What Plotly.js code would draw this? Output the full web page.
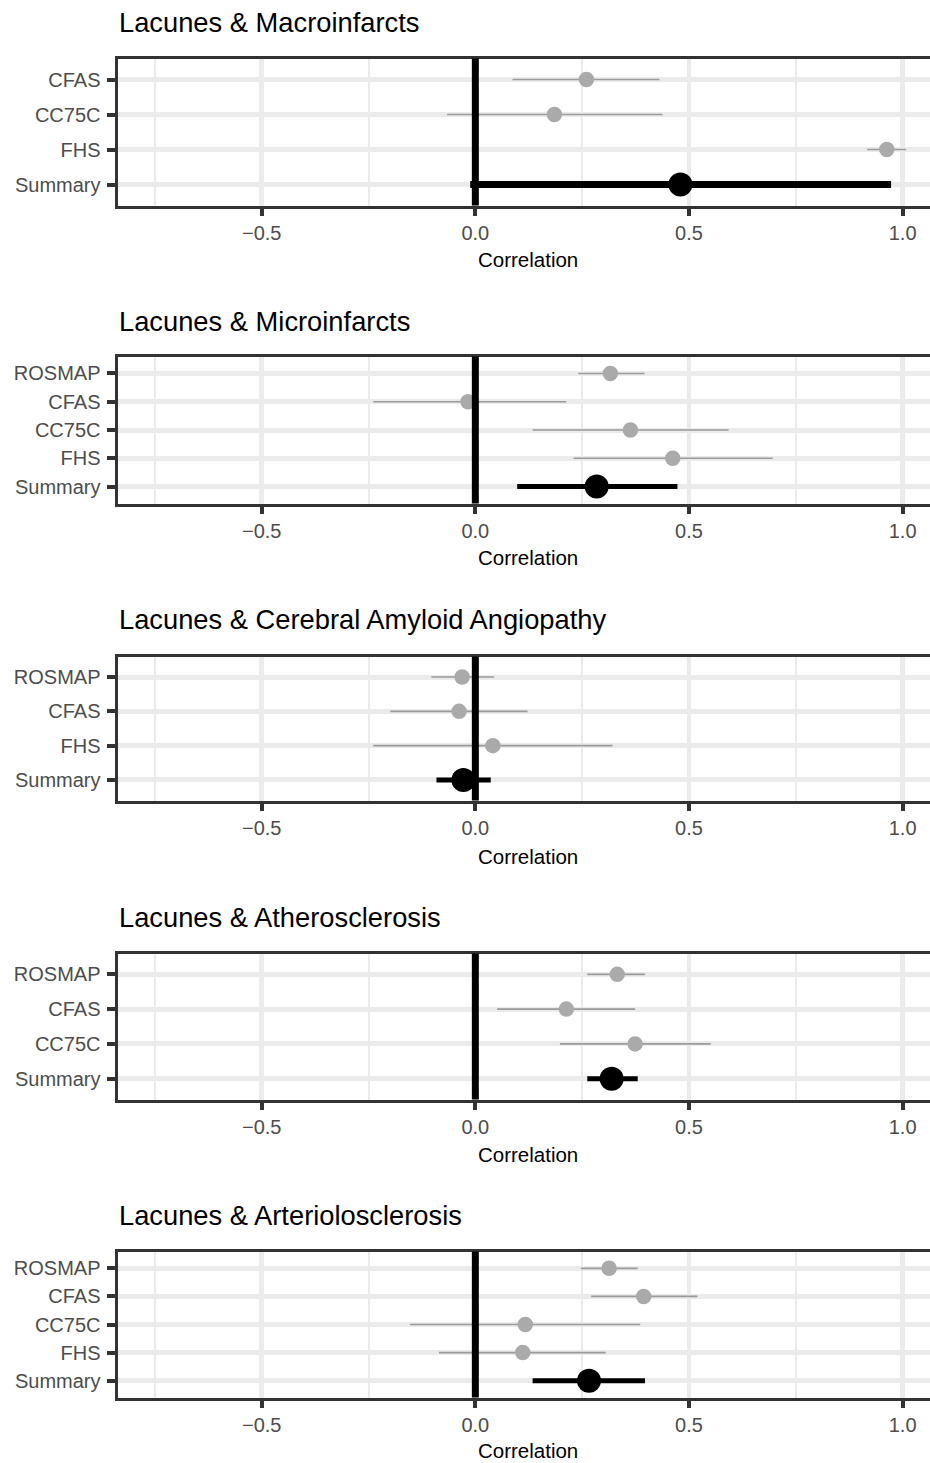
<!DOCTYPE html>
<html>
<head>
<meta charset="utf-8">
<script src="https://cdn.plot.ly/plotly-3.0.1.min.js"></script>
<style>
html, body { margin: 0; padding: 0; overflow: hidden; background: #fff; }
#chart { width: 940px; height: 1463px; }
</style>
</head>
<body>
<div id="chart"></div>
<script>
// ---- Data ----
const titles = [
  "Lacunes & Macroinfarcts",
  "Lacunes & Microinfarcts",
  "Lacunes & Cerebral Amyloid Angiopathy",
  "Lacunes & Atherosclerosis",
  "Lacunes & Arteriolosclerosis"
];
const xTickVals = [-0.5, 0.0, 0.5, 1.0];
const xTickText = ["\u22120.5", "0.0", "0.5", "1.0"];
const xAxisTitle = "Correlation";

const p1Labels = ["CFAS", "CC75C", "FHS", "Summary"];
const p1Est = [0.260, 0.185, 0.963, 0.480];
const p1Lo  = [0.087, -0.066, 0.917, -0.012];
const p1Hi  = [0.431, 0.438, 1.008, 0.973];

const p2Labels = ["ROSMAP", "CFAS", "CC75C", "FHS", "Summary"];
const p2Est = [0.316, -0.017, 0.363, 0.462, 0.284];
const p2Lo  = [0.241, -0.239, 0.134, 0.230, 0.098];
const p2Hi  = [0.396, 0.213, 0.593, 0.696, 0.473];

const p3Labels = ["ROSMAP", "CFAS", "FHS", "Summary"];
const p3Est = [-0.031, -0.038, 0.041, -0.028];
const p3Lo  = [-0.103, -0.199, -0.239, -0.091];
const p3Hi  = [0.044, 0.122, 0.321, 0.036];

const p4Labels = ["ROSMAP", "CFAS", "CC75C", "Summary"];
const p4Est = [0.332, 0.213, 0.374, 0.319];
const p4Lo  = [0.262, 0.051, 0.198, 0.262];
const p4Hi  = [0.397, 0.374, 0.551, 0.380];

const p5Labels = ["ROSMAP", "CFAS", "CC75C", "FHS", "Summary"];
const p5Est = [0.313, 0.394, 0.117, 0.111, 0.266];
const p5Lo  = [0.247, 0.271, -0.153, -0.085, 0.134];
const p5Hi  = [0.380, 0.520, 0.386, 0.305, 0.397];

const panels = [
  {labels: p1Labels, est: p1Est, lo: p1Lo, hi: p1Hi},
  {labels: p2Labels, est: p2Est, lo: p2Lo, hi: p2Hi},
  {labels: p3Labels, est: p3Est, lo: p3Lo, hi: p3Hi},
  {labels: p4Labels, est: p4Est, lo: p4Lo, hi: p4Hi},
  {labels: p5Labels, est: p5Est, lo: p5Lo, hi: p5Hi}
];

// ---- Layout / style ----
const W = 940, H = 1463;
const FONT = "Liberation Sans, Arial, sans-serif";
const panelBox = [[57, 207], [355, 505], [655, 802], [952, 1101], [1250, 1399]]; // px top/bottom
const titleY = [22, 321, 619, 917, 1215];
const axisTitleGap = [53, 53, 54, 53, 51];
const summaryLineWidth = [7, 5, 5, 5, 5];
const xLeftPx = 117.5, xRightPx = 940;
const xRange = [-0.8375, 1.0875];

const traces = [];
const layout = {
  width: W, height: H,
  margin: {l: 0, r: 0, t: 0, b: 0},
  paper_bgcolor: "#ffffff",
  plot_bgcolor: "#ffffff",
  showlegend: false,
  font: {family: FONT},
  annotations: [],
  shapes: []
};

panels.forEach((p, i) => {
  const n = i + 1;
  const xa = "x" + (n === 1 ? "" : n);
  const ya = "y" + (n === 1 ? "" : n);
  const xKey = "xaxis" + (n === 1 ? "" : n);
  const yKey = "yaxis" + (n === 1 ? "" : n);
  const [t, b] = panelBox[i];

  const studyIdx = p.labels.map((_, k) => k).filter(k => p.labels[k] !== "Summary");
  const sumIdx = p.labels.indexOf("Summary");

  // study CI lines
  const lx = [], ly = [];
  studyIdx.forEach(k => { lx.push(p.lo[k], p.hi[k], null); ly.push(p.labels[k], p.labels[k], null); });
  traces.push({
    type: "scatter", mode: "lines", x: lx, y: ly, xaxis: xa, yaxis: ya,
    line: {color: "#9a9a9a", width: 1.6}, hoverinfo: "skip", connectgaps: false
  });
  // study points
  traces.push({
    type: "scatter", mode: "markers",
    x: studyIdx.map(k => p.est[k]), y: studyIdx.map(k => p.labels[k]),
    xaxis: xa, yaxis: ya,
    marker: {color: "#aaaaaa", size: 15.5, line: {width: 0}}
  });
  // summary line
  traces.push({
    type: "scatter", mode: "lines",
    x: [p.lo[sumIdx], p.hi[sumIdx]], y: [p.labels[sumIdx], p.labels[sumIdx]],
    xaxis: xa, yaxis: ya,
    line: {color: "#000000", width: summaryLineWidth[i]}
  });
  // summary point
  traces.push({
    type: "scatter", mode: "markers",
    x: [p.est[sumIdx]], y: [p.labels[sumIdx]],
    xaxis: xa, yaxis: ya,
    marker: {color: "#000000", size: 24, line: {width: 0}}
  });

  const nCat = p.labels.length;
  layout[xKey] = {
    domain: [xLeftPx / W, xRightPx / W],
    anchor: ya,
    range: xRange,
    tickmode: "array", tickvals: xTickVals, ticktext: xTickText,
    ticks: "outside", ticklen: 7, tickwidth: 4, tickcolor: "#333333",
    tickfont: {family: FONT, size: 20, color: "#4d4d4d"},
    showgrid: true, gridcolor: "#ebebeb", gridwidth: 4.5,
    minor: {tickvals: [-0.75, -0.25, 0.25, 0.75], showgrid: true, gridcolor: "#ebebeb", gridwidth: 2, ticks: ""},
    zeroline: false,
    showline: true, mirror: true, linecolor: "#333333", linewidth: 3,
    fixedrange: true
  };
  layout[yKey] = {
    domain: [1 - (b - 1.5) / H, 1 - (t + 1.5) / H],
    anchor: xa,
    type: "category",
    categoryorder: "array", categoryarray: p.labels,
    range: [nCat - 1 + 0.6, -0.6],
    ticks: "outside", ticklen: 8, tickwidth: 4, tickcolor: "#333333",
    ticklabelstandoff: 2,
    tickfont: {family: FONT, size: 20, color: "#4d4d4d"},
    showgrid: true, gridcolor: "#ebebeb", gridwidth: 5,
    zeroline: false,
    showline: true, mirror: true, linecolor: "#333333", linewidth: 3,
    fixedrange: true
  };

  // vertical reference line at 0 (drawn above points as in reference)
  layout.shapes.push({
    type: "line", layer: "above",
    xref: xa, yref: ya + " domain",
    x0: 0, x1: 0, y0: 0, y1: 1,
    line: {color: "#000000", width: 7}
  });

  // panel title
  layout.annotations.push({
    text: titles[i], xref: "paper", yref: "paper",
    x: 117 / W, y: 1 - titleY[i] / H, xanchor: "left", yanchor: "middle",
    showarrow: false, font: {family: FONT, size: 27.3, color: "#000000"}
  });
  // x axis title
  layout.annotations.push({
    text: xAxisTitle, xref: "paper", yref: "paper",
    x: ((xLeftPx + 939) / 2) / W, y: 1 - (b + axisTitleGap[i]) / H, xanchor: "center", yanchor: "middle",
    showarrow: false, borderpad: 0, font: {family: FONT, size: 20.5, color: "#000000"}
  });
});

Plotly.newPlot("chart", traces, layout, {displayModeBar: false, staticPlot: true});
</script>
</body>
</html>
